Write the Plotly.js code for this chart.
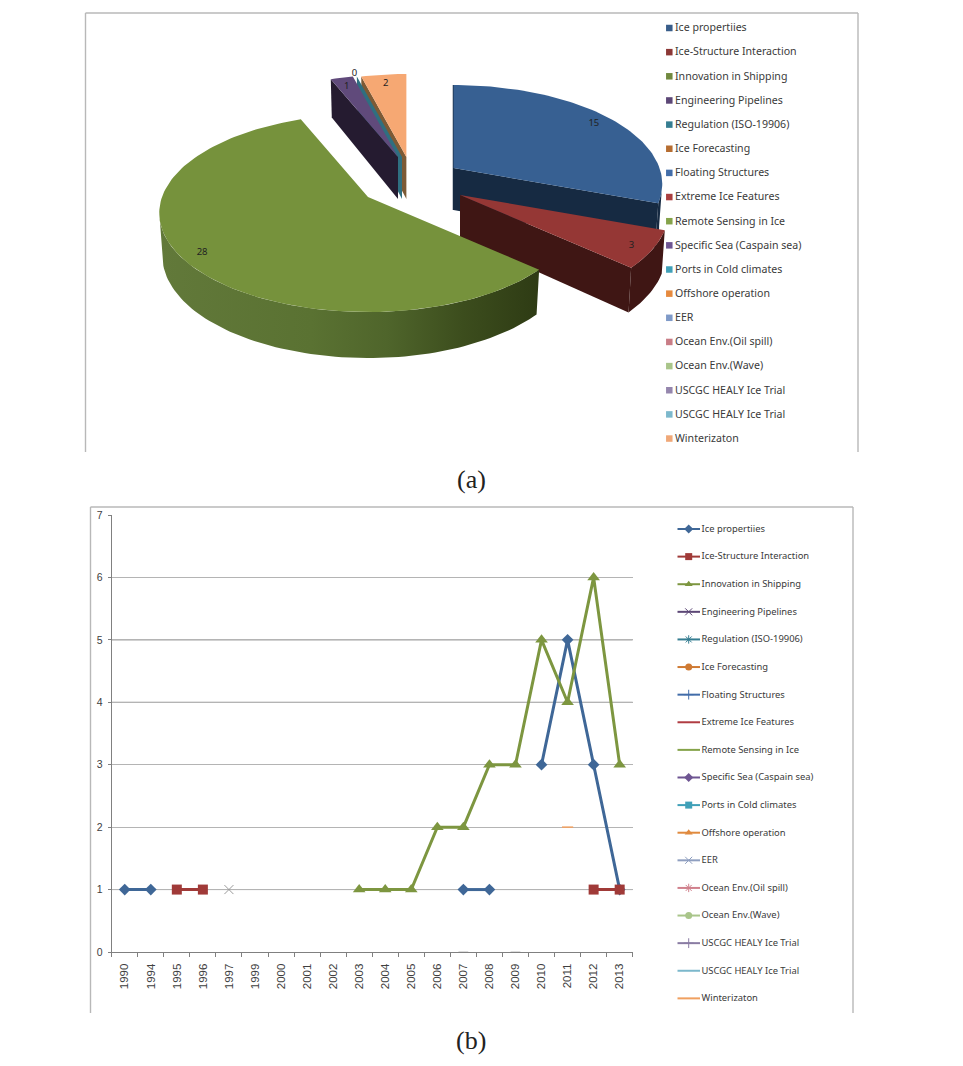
<!DOCTYPE html>
<html><head><meta charset="utf-8">
<script src="https://cdn.plot.ly/plotly-3.0.1.min.js"></script>
<style>html,body{margin:0;padding:0;background:#fff}#c{width:963px;height:1066px}</style></head>
<body><div id="c"></div>
<script>
// ---------- data ----------
const seriesNames = ["Ice propertiies","Ice-Structure Interaction","Innovation in Shipping","Engineering Pipelines","Regulation (ISO-19906)","Ice Forecasting","Floating Structures","Extreme Ice Features","Remote Sensing in Ice","Specific Sea (Caspain sea)","Ports in Cold climates","Offshore operation","EER","Ocean Env.(Oil spill)","Ocean Env.(Wave)","USCGC HEALY Ice Trial","USCGC HEALY Ice Trial","Winterizaton"];
const pieValues = [15,3,28,1,0,0,0,0,0,0,0,0,0,0,0,0,0,2];
const years = ["1990","1994","1995","1996","1997","1999","2000","2001","2002","2003","2004","2005","2006","2007","2008","2009","2010","2011","2012","2013"];
const _ = null;
const iceProperties   = [1,1,_,_,_,_,_,_,_,_,_,_,_,1,1,_,3,5,3,1];
const iceStructure    = [_,_,1,1,_,_,_,_,_,_,_,_,_,_,_,_,_,_,1,1];
const innovation      = [_,_,_,_,_,_,_,_,_,1,1,1,2,2,3,3,5,4,6,3];
const eer             = [_,_,_,_,1,_,_,_,_,_,_,_,_,_,_,_,_,_,_,_];
const healy1          = [_,_,_,_,_,_,_,_,_,_,_,_,_,0,_,_,_,_,_,_];
const healy2          = [_,_,_,_,_,_,_,_,_,_,_,_,_,_,_,0,_,_,_,_];
const winterization   = [_,_,_,_,_,_,_,_,_,_,_,_,_,_,_,_,_,2,_,_];
const seriesValues = {0:iceProperties,1:iceStructure,2:innovation,12:eer,15:healy1,16:healy2,17:winterization};
const yTicks = [0,1,2,3,4,5,6,7];
const darkGrid = [1,4,5];

// ---------- styles ----------
const pieSwatch = ["#385d8a","#8c3836","#71893f","#5c4776","#357d91","#b66d31","#426da9","#aa3f3f","#85a34a","#6e5592","#40a0b8","#e68a3e","#7f9ac8","#c97d86","#a9c58a","#9586ad","#7cb8cc","#f0a878"];
const lineColor = ["#3f6797","#a03a38","#7d9640","#5c4776","#357d91","#cf7a33","#426da9","#b03c42","#85a34a","#6e5592","#40a0b8","#e08a3e","#8f9fc0","#d0808c","#a9c58a","#8a7ca3","#7cb8cc","#f0a060"];
const lineSymbol = ["diamond","square","triangle-up","x-thin","asterisk","circle","cross-thin",null,null,"diamond","square","triangle-up","x-thin","asterisk","circle","cross-thin",null,null];
const lineFont = '"Noto Sans", sans-serif';
const A = 206, B = 96.4, K = 0.162;          // tilted-circle projection
const pieApex = i => i===0?[453.5,168]:i===1?[460,195]:i===2?[368,197]:i===3?[398,157]:i===17?[406.4,157]:[402,157];
const pieTop  = {0:"#376092",1:"#953735",2:"#76923c",3:"#604a7b",17:"#f6a873"};
const pieWall = {0:"#162a42",1:"#3f1614",3:"#251b30",4:"#2f6f80",17:"#7d5a35"};

// ---------- pie geometry from the values ----------
const total = pieValues.reduce((a,b)=>a+b,0);
let acc = 0;
const start=[], end=[];
pieValues.forEach((v,i)=>{start[i]=acc; acc+=v/total*360; end[i]=acc;});
const rad = d=>d*Math.PI/180;
function rim(i,th,r=1){
  const [ax,ay]=pieApex(i), u=r*Math.sin(rad(th)), v=r*Math.cos(rad(th)), w=1+K*v;
  return [ax+A*u/w, ay-B*v/w, v];
}
function low(i,p){ const [ax]=pieApex(i); return [ax+(p[0]-ax)*0.985, p[1]+42-4*p[2]]; }
const poly = (pts,color,extra={}) => Object.assign({
  type:'scatter',mode:'lines',x:pts.map(p=>p[0]),y:pts.map(p=>p[1]),xaxis:'x',yaxis:'y',
  fill:'toself',fillcolor:color,line:{width:0,color:color},hoverinfo:'skip',showlegend:false},extra);
function topFace(i){
  const pts=[rim(i,0,0)]; const a=start[i], b=end[i];
  for(let t=a;t<b;t+=1.5) pts.push(rim(i,t));
  pts.push(rim(i,b)); pts.push(rim(i,0,0));
  return poly(pts,pieTop[i],{name:seriesNames[i]});
}
function cutWall(i,th){
  const a=rim(i,th), c=rim(i,0,0);
  return poly([c,a,low(i,a),low(i,c),c],pieWall[i]);
}
function rimWall(i,a,b,color,extra){
  const up=[],dn=[];
  for(let t=a;t<b;t+=1.5){const p=rim(i,t);up.push(p);dn.unshift(low(i,p));}
  const p=rim(i,b);up.push(p);dn.unshift(low(i,p));
  return poly(up.concat(dn,[up[0]]),color,extra);
}
const traces=[];
// back group
traces.push(cutWall(17,start[17]));
traces.push(cutWall(4,start[4]));
traces.push(cutWall(3,start[3]));
traces.push(topFace(3));
traces.push(topFace(17));
// blue
traces.push(poly([rim(0,0),rim(0,0,0),low(0,rim(0,0,0)),low(0,rim(0,0))],pieWall[0],{line:{width:1.5,color:pieWall[0]}}));
traces.push(cutWall(0,end[0]));
traces.push(rimWall(0,99,end[0],pieWall[0]));
traces.push(topFace(0));
// red
traces.push(cutWall(1,end[1]));
traces.push(rimWall(1,start[1],end[1],pieWall[1]));
traces.push(topFace(1));
// green
traces.push(rimWall(2,start[2],261,"#556c2e",{fillgradient:{type:'horizontal',colorscale:[[0,"#62793a"],[0.4,"#5a7232"],[0.6,"#4f652b"],[0.8,"#3c4d1d"],[1,"#2e3b14"]]}}));
traces.push(topFace(2));

// pie data labels
const lab={x:[],y:[],t:[]}; let zeroDone=false;
pieValues.forEach((v,i)=>{
  if(v===0&&zeroDone) return; if(v===0) zeroDone=true;
  const p=rim(i,(start[i]+end[i])/2, v===0?1.06:0.9);
  lab.x.push(p[0]);lab.y.push(p[1]+1.5);lab.t.push(String(v));
});
traces.push({type:'scatter',mode:'text',x:lab.x,y:lab.y,text:lab.t,textposition:'middle center',
  textfont:{family:lineFont,size:9.5,color:'#222'},xaxis:'x',yaxis:'y',hoverinfo:'skip',showlegend:false});

// pie legend
const pieRow = i=>28.7+i*24.15;
traces.push({type:'scatter',mode:'markers',x:seriesNames.map(()=>669.3),y:seriesNames.map((n,i)=>pieRow(i)-0.7),
  marker:{symbol:'square',size:6.5,color:pieSwatch},xaxis:'x',yaxis:'y',hoverinfo:'skip',showlegend:false,cliponaxis:false});
traces.push({type:'scatter',mode:'text',x:seriesNames.map(()=>675),y:seriesNames.map((n,i)=>pieRow(i)),
  text:seriesNames,textposition:'middle right',
  textfont:{family:lineFont,size:10.6,color:'#3a3a3a'},xaxis:'x',yaxis:'y',hoverinfo:'skip',showlegend:false,cliponaxis:false});

// line chart series
seriesNames.forEach((n,i)=>{
  const vals=seriesValues[i]; if(!vals) return;
  let mk;
  if(i===12) mk={symbol:'x-thin',size:9,color:'#9a9a9a',line:{width:1,color:'#9a9a9a'}};
  else if(i===15||i===16) mk={symbol:'line-ew',size:7,color:'#b8b8b8',line:{width:1,color:'#b8b8b8'}};
  else if(i===17) mk={symbol:'line-ew',size:8,color:'#f0a060',line:{width:1.5,color:'#f0a060'}};
  else mk={symbol:lineSymbol[i],size:i===1?10:(i===2?11:9),color:lineColor[i]};
  traces.push({type:'scatter',mode:'lines+markers',name:n,x:years,y:vals,xaxis:'x2',yaxis:'y2',
    line:{color:lineColor[i],width:3},marker:mk,showlegend:false,cliponaxis:false});
});

// line legend
const lineRow = i=>529+i*27.61;
seriesNames.forEach((n,i)=>{
  const y=lineRow(i), sym=lineSymbol[i];
  traces.push({type:'scatter',mode:'lines',x:[677.5,700],y:[y,y],xaxis:'x',yaxis:'y',
    line:{color:lineColor[i],width:2},hoverinfo:'skip',showlegend:false});
  if(sym){
    const thin=/thin|asterisk/.test(sym);
    traces.push({type:'scatter',mode:'markers',x:[688.7],y:[y],xaxis:'x',yaxis:'y',
      marker:{symbol:sym,size:7,color:lineColor[i],line:thin?{width:1,color:lineColor[i]}:{width:0}},hoverinfo:'skip',showlegend:false});
  }
});
traces.push({type:'scatter',mode:'text',x:seriesNames.map(()=>701.5),y:seriesNames.map((n,i)=>lineRow(i)+0.5),
  text:seriesNames,textposition:'middle right',textfont:{family:lineFont,size:9.4,color:'#3a3a3a'},
  xaxis:'x',yaxis:'y',hoverinfo:'skip',showlegend:false,cliponaxis:false});

// ---------- layout ----------
const W=963,H=1066;
const frame=(x0,y0,x1,y1)=>({type:'line',xref:'x',yref:'y',x0,y0,x1,y1,line:{color:'#b8b8b8',width:1.4},layer:'below'});
const shapes=[
  frame(85.5,13,858,13),frame(85.5,13,85.5,452),frame(858,13,858,452),
  frame(90.5,507,853,507),frame(90.5,507,90.5,1013),frame(853,507,853,1013)
];
darkGrid.forEach(v=>shapes.push({type:'line',xref:'x2 domain',yref:'y2',x0:0,x1:1,y0:v,y1:v,line:{color:'#808080',width:1},layer:'below'}));

const layout={
  width:W,height:H,margin:{l:0,r:0,t:0,b:0},paper_bgcolor:'#fff',plot_bgcolor:'rgba(0,0,0,0)',showlegend:false,
  xaxis:{domain:[0,1],range:[0,W],visible:false,fixedrange:true},
  yaxis:{domain:[0,1],range:[H,0],visible:false,fixedrange:true},
  xaxis2:{domain:[111.7/W,632.7/W],anchor:'y2',type:'category',categoryorder:'array',categoryarray:years,
    range:[-0.5,19.5],tickson:'boundaries',ticks:'outside',ticklen:4,tickcolor:'#808080',tickangle:-90,ticklabelstandoff:6,
    tickfont:{family:'"Liberation Sans",sans-serif',size:11.5,color:'#404040'},showline:true,linecolor:'#808080',showgrid:false,zeroline:false,fixedrange:true},
  yaxis2:{domain:[(H-952)/H,(H-515)/H],anchor:'x2',range:[0,7],tickvals:yTicks,ticktext:yTicks.map(String),ticks:'outside',ticklen:3,ticklabelstandoff:3,
    tickcolor:'#808080',tickfont:{family:'"Liberation Sans",sans-serif',size:10.5,color:'#404040'},showline:true,linecolor:'#808080',
    showgrid:true,gridcolor:'#b4b4b4',gridwidth:1,zeroline:false,fixedrange:true},
  shapes,
  annotations:[
    {xref:'x',yref:'y',x:471,y:479,text:'(a)',showarrow:false,font:{family:'"Liberation Serif",serif',size:26,color:'#222'}},
    {xref:'x',yref:'y',x:471,y:1040,text:'(b)',showarrow:false,font:{family:'"Liberation Serif",serif',size:26,color:'#222'}}
  ]
};
Plotly.newPlot('c',traces,layout,{staticPlot:true,displayModeBar:false});
</script></body></html>
